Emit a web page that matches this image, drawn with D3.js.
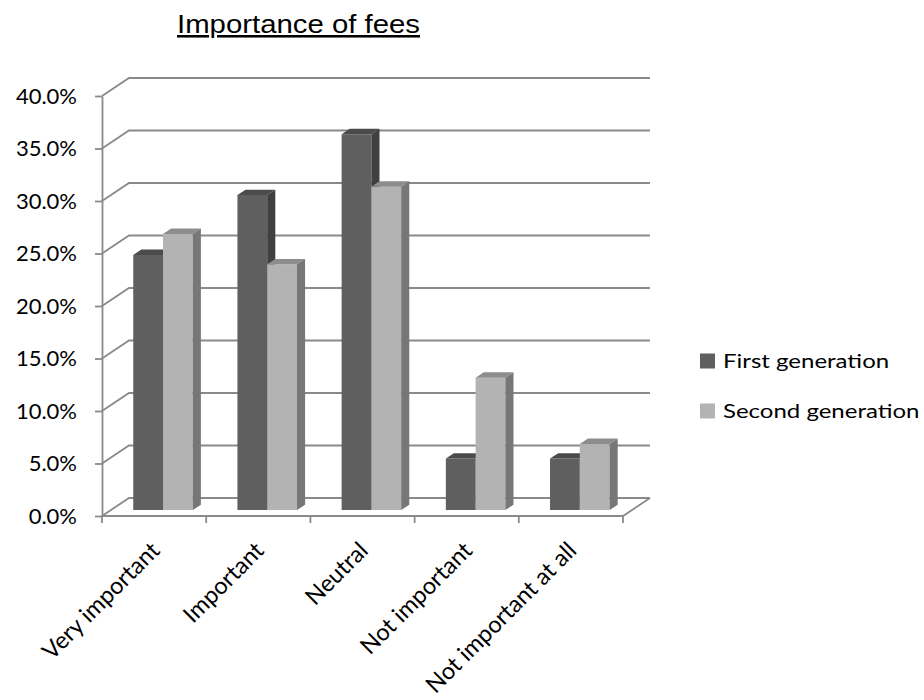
<!DOCTYPE html>
<html>
<head>
<meta charset="utf-8">
<script src="https://cdn.jsdelivr.net/npm/d3@7"></script>
<style>
  html, body { margin: 0; padding: 0; background: #fff; }
  svg { display: block; }
</style>
</head>
<body>
<svg id="chart" width="924" height="700"></svg>
<script>
// Survey results: how important fees are, by generation
const categories = ["Very important", "Important", "Neutral", "Not important", "Not important at all"];
const seriesNames = ["First generation", "Second generation"];
const firstGeneration = [0.243, 0.300, 0.358, 0.049, 0.049];
const secondGeneration = [0.263, 0.234, 0.308, 0.126, 0.063];
const yTicks = [0, 0.05, 0.10, 0.15, 0.20, 0.25, 0.30, 0.35, 0.40];
const chartTitle = "Importance of fees";

const seriesValues = [firstGeneration, secondGeneration];
const faceColors = [
  { front: "#5f5f5f", top: "#4b4b4b", side: "#404040" },
  { front: "#b3b3b3", top: "#8d8d8d", side: "#777777" }
];

const svg = d3.select("#chart");
const font = "Lato, 'Open Sans', sans-serif";

// plot frame (front plane) and depth of the 3D box
const plotLeft = 102, plotRight = 623, plotBottom = 516, plotTop = 96;
const depthX = 27, depthY = -18;
const barFront = 0.33, barBack = 0.63;

const x = d3.scaleBand().domain(categories).range([plotLeft, plotRight]).padding(0);
const xs = d3.scaleBand().domain(seriesNames).range([0, x.bandwidth()]).paddingInner(0).paddingOuter(0.75);
const y = d3.scaleLinear().domain([0, 0.4]).range([plotBottom, plotTop]);

// projection of (screen x, value, depth fraction) into the picture
const px = (xx, f) => xx + depthX * f;
const py = (v, f) => y(v) + depthY * f;

const gridColor = "#8a8a8a";
const gGrid = svg.append("g").attr("fill", "none").attr("stroke", gridColor).attr("stroke-width", 1.8);

// back wall gridlines with the side-wall diagonals
yTicks.forEach(t => {
  gGrid.append("path").attr("d", d3.line()([
    [plotLeft, y(t)], [px(plotLeft, 1), py(t, 1)], [px(plotRight, 1), py(t, 1)]
  ]));
});
// floor
gGrid.append("path").attr("d", d3.line()([
  [plotLeft, y(0)], [plotRight, y(0)], [px(plotRight, 1), py(0, 1)]
]));

// bars as simple 3D boxes
const gBars = svg.append("g");
const poly = pts => "M" + pts.map(p => p.join(",")).join("L") + "Z";
categories.forEach((c, ci) => {
  seriesNames.forEach((s, si) => {
    const v = seriesValues[si][ci];
    const x0 = x(c) + xs(s), x1 = x0 + xs.bandwidth();
    const col = faceColors[si];
    const front = [[px(x0, barFront), py(v, barFront)], [px(x1, barFront), py(v, barFront)],
                   [px(x1, barFront), py(0, barFront)], [px(x0, barFront), py(0, barFront)]];
    const topFace = [[px(x0, barFront), py(v, barFront)], [px(x0, barBack), py(v, barBack)],
                     [px(x1, barBack), py(v, barBack)], [px(x1, barFront), py(v, barFront)]];
    const side = [[px(x1, barFront), py(v, barFront)], [px(x1, barBack), py(v, barBack)],
                  [px(x1, barBack), py(0, barBack)], [px(x1, barFront), py(0, barFront)]];
    gBars.append("path").attr("d", poly(front)).attr("fill", col.front);
    gBars.append("path").attr("d", poly(topFace)).attr("fill", col.top);
    gBars.append("path").attr("d", poly(side)).attr("fill", col.side);
  });
});

// value axis on the front plane
const yAxis = d3.axisLeft(y).tickValues(yTicks).tickFormat(d3.format(".1%"))
  .tickSize(7).tickSizeOuter(0).tickPadding(18);
const gY = svg.append("g").attr("transform", `translate(${plotLeft},0)`).call(yAxis);
gY.select(".domain").attr("stroke", gridColor).attr("stroke-width", 1.8);
gY.selectAll(".tick line").attr("stroke", gridColor).attr("stroke-width", 1.8);
gY.selectAll(".tick text").attr("font-family", font).attr("font-size", 22).attr("fill", "#000");

// category axis: front floor edge with ticks between categories
const gX = svg.append("g");
const boundaries = categories.map(c => x(c)).concat([x(categories[categories.length - 1]) + x.bandwidth()]);
gX.selectAll("line").data(boundaries).join("line")
  .attr("x1", d => d).attr("x2", d => d)
  .attr("y1", y(0)).attr("y2", y(0) + 7)
  .attr("stroke", gridColor).attr("stroke-width", 1.8);
gX.selectAll("text").data(categories).join("text")
  .attr("transform", d => `translate(${x(d) + x.bandwidth() / 2 + 7},${y(0) + 36}) rotate(-45)`)
  .attr("text-anchor", "end")
  .attr("font-family", font).attr("font-size", 23.5).attr("fill", "#000")
  .text(d => d);

// title, underlined
svg.append("text")
  .attr("x", 298.5).attr("y", 33)
  .attr("text-anchor", "middle")
  .attr("font-family", "'Liberation Sans', Arial, sans-serif")
  .attr("font-size", 25.5)
  .attr("textLength", 243).attr("lengthAdjust", "spacingAndGlyphs")
  .attr("text-decoration", "underline")
  .attr("fill", "#000")
  .text(chartTitle);

// legend
const legend = svg.append("g").attr("transform", "translate(700,361)");
seriesNames.forEach((s, i) => {
  const g = legend.append("g").attr("transform", `translate(0,${i * 50})`);
  g.append("rect").attr("x", 0).attr("y", -7.5).attr("width", 15).attr("height", 15).attr("fill", faceColors[i].front);
  g.append("text").attr("transform", "translate(23,0) scale(1.2,1)").attr("dy", "0.35em")
    .attr("font-family", font).attr("font-size", 20).attr("fill", "#000").text(s);
});
</script>
</body>
</html>
